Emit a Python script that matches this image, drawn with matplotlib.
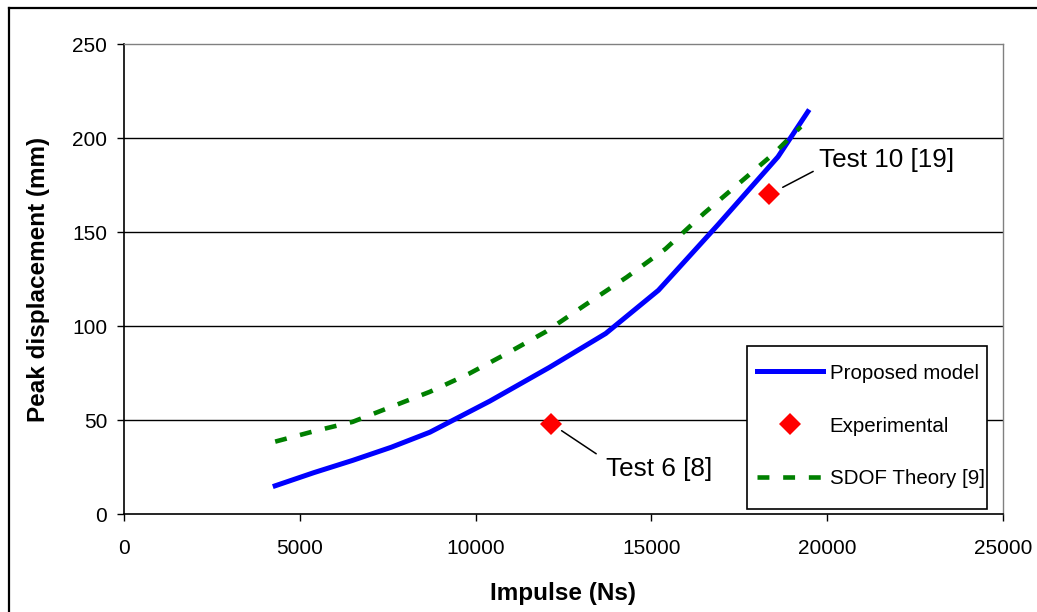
import matplotlib
matplotlib.use("Agg")
import matplotlib.pyplot as plt
from matplotlib.lines import Line2D
from matplotlib.patches import Rectangle

plt.rcParams["font.family"] = ["Liberation Sans", "DejaVu Sans"]

# Proposed model
model_impulse = [4300, 5400, 6500, 7600, 8700, 10400, 12100, 13700, 15200, 16900, 18600, 19450]
model_disp = [15, 22, 28.5, 35.5, 43.5, 60, 78, 96, 119, 154, 190, 214]

# SDOF theory
sdof_impulse = [4300, 5400, 6500, 7600, 8700, 9800, 10900, 12000, 13100, 14300, 15400, 16500, 17500, 18500, 19250]
sdof_disp = [38.5, 44, 49, 57, 65, 74.5, 85.5, 97, 111, 126, 141, 160, 176, 192, 206]

# Experimental tests
exp_impulse = [12150, 18350]
exp_disp = [48, 170]
exp_labels = ["Test 6 [8]", "Test 10 [19]"]

x_ticks = [0, 5000, 10000, 15000, 20000, 25000]
y_ticks = [0, 50, 100, 150, 200, 250]

W, H = 1037, 612
fig = plt.figure(figsize=(W / 100, H / 100), dpi=100)
ax = fig.add_axes([124 / W, 1 - 514 / H, (1003 - 124) / W, (514 - 44) / H])

ax.set_xlim(0, 25000)
ax.set_ylim(0, 250)
ax.set_xticks(x_ticks)
ax.set_yticks(y_ticks)
ax.tick_params(axis="both", direction="out", length=5, width=1, colors="black",
               labelsize=15)
ax.tick_params(axis="y", pad=7)
ax.tick_params(axis="x", pad=13)

for y in y_ticks[1:-1]:
    ax.axhline(y, color="black", lw=1, zorder=1)

for s in ("left", "bottom"):
    ax.spines[s].set_color("black")
    ax.spines[s].set_linewidth(1.2)
for s in ("top", "right"):
    ax.spines[s].set_color("#808080")
    ax.spines[s].set_linewidth(1)

ax.plot(model_impulse, model_disp, color="#0000ff", lw=3.6, solid_joinstyle="miter",
        label="Proposed model", zorder=3)
ax.plot(exp_impulse, exp_disp, linestyle="none", marker="D", markersize=11,
        color="#ff0000", markeredgewidth=0, label="Experimental", zorder=4)
ax.plot(sdof_impulse, sdof_disp, color="#008000", lw=3.3, linestyle=(0, (2.6, 3.0)),
        label="SDOF Theory [9]", zorder=3)

# Test callouts: leader line end, gap at the marker (pt), label offset (pixels)
callouts = [((45, -30), 9.0, (55, -45)), ((44, 23), 11.0, (50, 34))]
for ix, iy, lab, (lead, gap, to) in zip(exp_impulse, exp_disp, exp_labels, callouts):
    ax.annotate("", xy=(ix, iy), xytext=lead, textcoords="offset pixels",
                arrowprops=dict(arrowstyle="-", color="black", lw=1.1,
                                shrinkA=0, shrinkB=gap))
    ax.annotate(lab, xy=(ix, iy), xytext=to, textcoords="offset pixels",
                ha="left", va="center", fontsize=18.8, color="black")

ax.set_xlabel("Impulse (Ns)", fontsize=17.5, fontweight="bold", labelpad=17)
ax.set_ylabel("Peak displacement (mm)", fontsize=17.5, fontweight="bold", labelpad=16)

# Legend box drawn separately so the entries can sit close to its right edge
box = Rectangle((747 / W, 1 - 509 / H), (987 - 747) / W, (509 - 346) / H,
                transform=fig.transFigure, facecolor="white", edgecolor="black",
                lw=1.2, zorder=5)
fig.add_artist(box)
leg = ax.legend(loc="upper left", bbox_to_anchor=(747 / W, 1 - 354 / H),
                bbox_transform=fig.transFigure, borderaxespad=0, fontsize=14.8,
                frameon=False, handlelength=3.25, handletextpad=0.3,
                labelspacing=1.65, borderpad=0.47)
leg.set_zorder(6)
fig.add_artist(leg)

# Outer chart border
fig.add_artist(Line2D([9 / W, 9 / W], [0, 1 - 8 / H], transform=fig.transFigure,
                      color="black", lw=1.6))
fig.add_artist(Line2D([9 / W, 1], [1 - 8 / H, 1 - 8 / H], transform=fig.transFigure,
                      color="black", lw=1.6))

fig.savefig("out.png", dpi=100)
